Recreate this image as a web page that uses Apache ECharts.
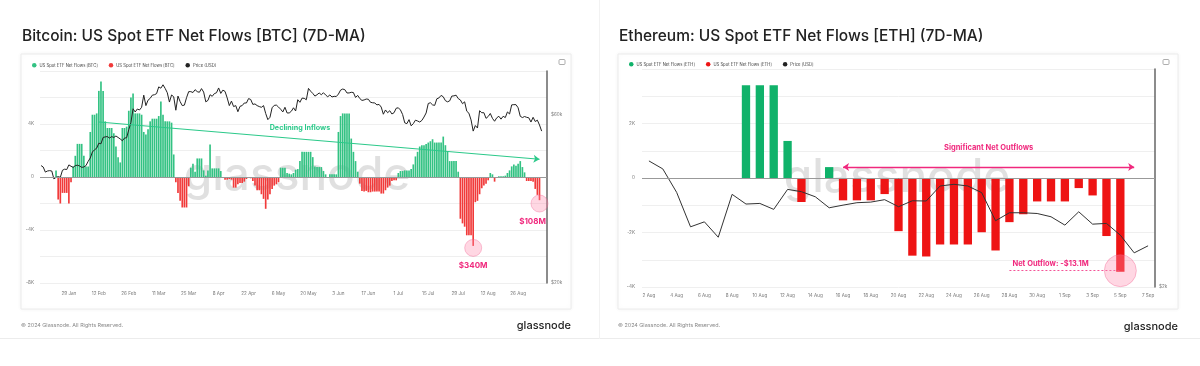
<!DOCTYPE html>
<html><head><meta charset="utf-8">
<script src="https://cdn.jsdelivr.net/npm/echarts@6/dist/echarts.min.js"></script>
<style>html,body{margin:0;padding:0;background:#fff;}#c{width:1200px;height:366px;}</style>
</head><body><div id="c"></div>
<script>
// ---------- DATA ----------
const btcStartDate = '2024-01-16';
const btcDayCount = 237;            // 16 Jan .. 9 Sep 2024 (axis extent)
// BTC ETF net flows, 7D-MA, in BTC (from 16 Jan)
const btcFlows = [
  0,0,0,0,0,0,0,500,
  -1700,-2000,-1200,-1200,-1200,-2000,-400,
  800,1600,2500,2500,2500,1600,800,800,3400,4700,4700,4800,6500,7200,6500,4200,3700,3700,3700,3300,2300,1500,1100,
  3700,3700,3800,5000,6000,6300,4800,4800,4800,4700,3400,3200,3600,4200,4400,4400,4400,4600,5700,4700,4200,4200,4200,4100,1700,
  -400,-1200,-1800,-2300,-2300,-2300,-700,
  700,1000,400,1400,1400,1400,500,100,500,2450,650,650,650,650,450,0,
  -200,-200,-150,-200,
  -800,-800,-550,-450,-450,-350,-150,0,-100,
  -300,-650,-1000,-1000,-1300,-1650,-2400,-1700,-1300,-900,-650,-550,-400,
  700,700,700,300,250,200,300,
  550,600,1200,1900,1900,1900,1900,1900,1500,800,750,750,750,450,200,0,200,200,200,200,
  3400,4600,4800,4800,4800,4800,2900,1900,1200,400,
  -500,-1050,-1100,-1050,-1150,-1150,-1100,-1100,-1100,-1100,-1250,-1250,-1000,-800,-650,-300,-250,-250,
  300,450,450,500,500,500,600,950,1550,1900,2300,2400,2400,2500,2600,2700,2850,2600,2600,2600,2600,3050,2400,1950,1200,1200,1200,1200,400,
  -3150,-3500,-3750,-4400,-4400,-4400,-5200,-1900,-1800,-1300,-850,-650,-500,-250,
  300,200,-350,0,50,50,50,100,300,500,800,950,850,1000,1200,750,350,
  -300,-300,-300,-350,-900,-1350,-1750
];
// BTC price (USD, thousands) from 16 Jan to 6 Sep
const btcPriceK = [
  43.1,42.7,41.3,41.6,41.7,41.6,39.5,39.9,40.1,39.9,41.8,42.1,42.0,43.3,42.9,42.6,
  43.1,43.2,43.0,42.6,42.7,43.1,44.3,45.3,47.1,47.8,48.3,49.9,49.7,51.8,52.0,52.1,51.6,52.1,51.8,52.3,51.8,51.3,50.7,51.6,51.7,54.5,57.1,62.5,61.2,
  62.4,62.0,63.1,68.3,63.8,66.1,66.9,68.3,68.5,69.0,72.1,71.5,73.1,71.4,69.4,65.3,68.4,67.6,61.9,67.9,65.5,63.8,64.0,67.2,69.9,69.9,69.5,70.8,69.9,69.6,71.3,
  69.7,65.4,66.0,68.5,67.8,69.0,69.4,71.6,69.1,70.6,70.0,67.1,63.8,65.7,63.4,63.8,61.3,63.5,63.8,64.9,64.9,66.8,66.4,64.3,64.5,63.8,63.4,63.1,63.8,60.6,
  58.2,59.1,62.9,63.9,64.0,63.2,62.3,61.2,63.1,60.8,60.8,61.5,62.9,61.6,66.3,65.2,67.0,66.9,66.3,71.4,70.1,69.1,67.9,68.5,69.3,68.5,69.4,68.4,67.6,68.4,67.5,
  67.8,67.7,68.8,70.6,71.1,70.8,69.3,69.3,69.6,69.5,67.3,68.2,66.8,66.0,66.2,66.6,66.5,65.2,65.0,64.9,64.1,64.3,63.2,60.3,62.0,60.9,61.7,60.4,60.9,62.7,
  62.9,62.0,60.2,57.0,56.7,58.2,55.9,56.7,58.0,57.7,57.3,57.9,59.2,60.8,64.7,65.0,64.1,63.9,66.7,67.1,68.2,67.6,65.9,65.4,65.8,67.9,68.0,68.3,66.8,66.2,64.6,
  65.4,61.5,60.7,58.1,54.0,56.0,55.1,61.7,60.9,60.9,58.7,59.4,60.6,58.7,57.6,58.9,59.5,58.4,59.5,59.0,61.2,60.4,64.1,64.2,64.2,62.9,59.5,59.0,59.4,59.1,58.9,
  57.3,59.1,57.5,58.0,56.2,54.0
];
const btcFlowTicks = [8000, 4000, 0, -4000, -8000];
const btcPriceTicks = [20000, 60000];

const ethStartDate = '2024-08-02';
const ethDayCount = 37;             // 2 Aug .. 7 Sep 2024
// ETH ETF net flows, 7D-MA, in ETH
const ethFlows = [null,null,null,null,null,null,null,3400,3400,3400,1360,-880,null,400,
  -820,-820,-820,-590,-1950,-2850,-2880,-2440,-2440,-2440,-1990,-2660,-1620,-1330,-860,-860,-860,-370,-640,-2130,-3440,null,null];
// ETH price (USD)
const ethPrice = [3041,2975,2781,2497,2538,2411,2765,2685,2690,2641,2806,2787,2745,2654,2676,2696,2701,2721,
  2663,2712,2710,2834,2848,2834,2779,2547,2613,2613,2607,2580,2511,2621,2519,2525,2428,2282,2340];
const ethPriceTicks = [2000];

// ---------- HELPERS ----------
const MONTHS = ['Jan','Feb','Mar','Apr','May','Jun','Jul','Aug','Sep','Oct','Nov','Dec'];
function dayLabels(start, n) {
  const d0 = new Date(start + 'T00:00:00Z').getTime();
  const out = [];
  for (let k = 0; k < n; k++) { const d = new Date(d0 + k * 86400000); out.push(d.getUTCDate() + ' ' + MONTHS[d.getUTCMonth()]); }
  return out;
}
const btcDates = dayLabels(btcStartDate, btcDayCount);
const ethDates = dayLabels(ethStartDate, ethDayCount);
const btcPrice = btcPriceK.map(v => v * 1000);
const pos = a => a.map(v => (v != null && v > 0) ? v : null);
const neg = a => a.map(v => (v != null && v < 0) ? v : null);
const kFmt = v => v === 0 ? '0' : (v / 1000) + 'K';

const GREEN_B = '#33c283', RED_B = '#f13a3a';
const GREEN_E = '#10b26a', RED_E = '#ee1414';
const PINK = '#f0287d', ANN_GREEN = '#2cc98a';
const FONT = 'Inter, Roboto, sans-serif';
const legendNames = {
  btcPos: 'US Spot ETF Net Flows [BTC]', btcNeg: 'US Spot ETF Net Flows [BTC]', btcPrice: 'Price (USD)',
  ethPos: 'US Spot ETF Net Flows [ETH]', ethNeg: 'US Spot ETF Net Flows [ETH]', ethPrice: 'Price [USD]'
};
const axisLabelStyle = { fontSize: 4.6, color: '#777', fontFamily: FONT };
const circleStyle = { color: 'rgba(255,140,175,0.35)', borderColor: 'rgba(240,90,140,0.45)', borderWidth: 0.8 };

const chart = echarts.init(document.getElementById('c'), null, { renderer: 'canvas' });
chart.setOption({
  backgroundColor: '#fff',
  animation: false,
  textStyle: { fontFamily: FONT },
  title: [
    { text: 'Bitcoin: US Spot ETF Net Flows [BTC] (7D-MA)', left: 17, top: 23,
      textStyle: { fontSize: 15.5, fontWeight: 500, color: '#222', fontFamily: FONT } },
    { text: 'Ethereum: US Spot ETF Net Flows [ETH] (7D-MA)', left: 614, top: 23,
      textStyle: { fontSize: 15.5, fontWeight: 500, color: '#222', fontFamily: FONT } }
  ],
  legend: [
    { data: ['btcPos', 'btcNeg', 'btcPrice'], left: 27, top: 58, icon: 'circle', itemWidth: 4.5, itemHeight: 4.5,
      itemGap: 11, selectedMode: false, formatter: n => legendNames[n], textStyle: { fontSize: 4.2, color: '#444', padding: [0, 0, 0, -2] } },
    { data: ['ethPos', 'ethNeg', 'ethPrice'], left: 624, top: 57, icon: 'circle', itemWidth: 4.5, itemHeight: 4.5,
      itemGap: 11, selectedMode: false, formatter: n => legendNames[n], textStyle: { fontSize: 4.2, color: '#444', padding: [0, 0, 0, -2] } }
  ],
  grid: [
    { left: 40, right: 653, top: 71, bottom: 83 },
    { left: 642, right: 45, top: 69, bottom: 79 }
  ],
  xAxis: [
    { type: 'category', gridIndex: 0, data: btcDates, boundaryGap: true,
      axisLine: { show: false }, axisTick: { show: false },
      axisLabel: Object.assign({ margin: 8, interval: (i) => i >= 13 && (i - 13) % 14 === 0 }, axisLabelStyle) },
    { type: 'category', gridIndex: 1, data: ethDates, boundaryGap: true,
      axisLine: { show: false }, axisTick: { show: false },
      axisLabel: Object.assign({ margin: 6, interval: 1 }, axisLabelStyle) }
  ],
  yAxis: [
    { type: 'value', gridIndex: 0, min: -8000, max: 8000, interval: 2000, position: 'left',
      axisLine: { show: false }, axisTick: { show: false },
      splitLine: { lineStyle: { color: '#efefef', width: 1 } },
      axisLabel: Object.assign({ margin: 6, formatter: v => (btcFlowTicks.includes(v) && v !== 8000) ? kFmt(v) : '' }, axisLabelStyle) },
    { type: 'log', gridIndex: 0, min: 20000, max: 80000, position: 'right',
      axisLine: { show: true, lineStyle: { color: '#666', width: 1.5 } }, axisTick: { show: false },
      splitLine: { show: false },
      axisLabel: Object.assign({ margin: 4, customValues: btcPriceTicks, formatter: v => '$' + Math.round(v / 1000) + 'k' }, axisLabelStyle) },
    { type: 'value', gridIndex: 1, min: -4000, max: 4000, interval: 1000, position: 'left',
      axisLine: { show: false }, axisTick: { show: false },
      splitLine: { lineStyle: { color: '#efefef', width: 1 } },
      axisLabel: Object.assign({ margin: 7, formatter: v => (v % 2000 === 0 && v !== 4000) ? kFmt(v) : '' }, axisLabelStyle) },
    { type: 'value', gridIndex: 1, min: 2000, max: 3800, position: 'right',
      axisLine: { show: true, lineStyle: { color: '#666', width: 1.5 } }, axisTick: { show: false },
      splitLine: { show: false },
      axisLabel: Object.assign({ margin: 4, customValues: ethPriceTicks, formatter: v => '$' + Math.round(v / 1000) + 'k' }, axisLabelStyle) }
  ],
  series: [
    { name: 'btcPos', type: 'bar', xAxisIndex: 0, yAxisIndex: 0, data: pos(btcFlows), barGap: '-100%', barCategoryGap: '22%',
      itemStyle: { color: GREEN_B }, z: 3,
      markLine: { silent: true, symbol: 'none', animation: false,
        data: [
          { yAxis: 0, lineStyle: { color: '#999', width: 1, type: 'solid' }, label: { show: false } },
          [ { coord: [btcDates[27], 4150], symbol: 'none' },
            { coord: [btcDates[233], 1340], symbol: 'arrow', symbolSize: 6 } ]
        ],
        lineStyle: { color: ANN_GREEN, width: 1.2, type: 'solid' }, label: { show: false } },
      markPoint: { silent: true, animation: false,
        data: [ { coord: [btcDates[121], 3700], symbol: 'circle', symbolSize: 0,
          label: { show: true, position: 'inside', formatter: 'Declining Inflows', color: ANN_GREEN, fontWeight: 'bold', fontSize: 7.2, fontFamily: FONT } } ] } },
    { name: 'btcNeg', type: 'bar', xAxisIndex: 0, yAxisIndex: 0, data: neg(btcFlows), barGap: '-100%', barCategoryGap: '22%',
      itemStyle: { color: RED_B }, z: 3,
      markPoint: { silent: true, animation: false, symbol: 'circle', symbolSize: 17, itemStyle: circleStyle,
        label: { show: true, position: 'bottom', distance: 5, color: PINK, fontWeight: 'bold', fontSize: 8, fontFamily: FONT },
        data: [
          { coord: [btcDates[202], -5350], label: { formatter: '$340M' } },
          { coord: [btcDates[233], -2000], label: { formatter: '$108M', offset: [-7, 0] } }
        ] } },
    { name: 'btcPrice', type: 'line', xAxisIndex: 0, yAxisIndex: 1, data: btcPrice, symbol: 'none', z: 4,
      lineStyle: { color: '#222', width: 1 }, itemStyle: { color: '#222' } },

    { name: 'ethPos', type: 'bar', xAxisIndex: 1, yAxisIndex: 2, data: pos(ethFlows), barGap: '-100%', barCategoryGap: '40%',
      itemStyle: { color: GREEN_E }, z: 3,
      markLine: { silent: true, symbol: 'none', animation: false,
        data: [
          { yAxis: 0, lineStyle: { color: '#999', width: 1, type: 'solid' }, label: { show: false } },
          [ { coord: [ethDates[14], 400], symbol: 'arrow', symbolSize: 6 },
            { coord: [ethDates[35], 400], symbol: 'arrow', symbolSize: 6 } ]
        ],
        lineStyle: { color: PINK, width: 1.3, type: 'solid' },
        label: { show: true, position: 'middle', distance: 15, formatter: 'Significant Net Outflows', color: PINK, fontWeight: 'bold', fontSize: 7.5, fontFamily: FONT } } },
    { name: 'ethNeg', type: 'bar', xAxisIndex: 1, yAxisIndex: 2, data: neg(ethFlows), barGap: '-100%', barCategoryGap: '40%',
      itemStyle: { color: RED_E }, z: 3,
      markLine: { silent: true, symbol: 'none', animation: false,
        data: [ [ { coord: [ethDates[26], -3400] }, { coord: [ethDates[34], -3400] } ] ],
        lineStyle: { color: PINK, width: 0.8, type: [2, 2] },
        label: { show: true, position: 'insideStartTop', distance: 3, formatter: 'Net Outflow: -$13.1M', color: PINK, fontWeight: 'bold', fontSize: 7.5, fontFamily: FONT } },
      markPoint: { silent: true, animation: false, symbol: 'circle', symbolSize: 32, itemStyle: circleStyle, label: { show: false },
        data: [ { coord: [ethDates[34], -3400] } ] } },
    { name: 'ethPrice', type: 'line', xAxisIndex: 1, yAxisIndex: 3, data: ethPrice, symbol: 'none', z: 4,
      lineStyle: { color: '#333', width: 1 }, itemStyle: { color: '#222' } }
  ],
  graphic: [
    { type: 'rect', z: -10, shape: { x: 21, y: 54, width: 550, height: 255 }, style: { fill: '#fff', stroke: '#ececec', lineWidth: 1, shadowBlur: 4, shadowColor: 'rgba(0,0,0,0.05)' } },
    { type: 'rect', z: -10, shape: { x: 618, y: 54, width: 560, height: 255 }, style: { fill: '#fff', stroke: '#ececec', lineWidth: 1, shadowBlur: 4, shadowColor: 'rgba(0,0,0,0.05)' } },
    { type: 'line', z: -9, shape: { x1: 0, y1: 338.5, x2: 1200, y2: 338.5 }, style: { stroke: '#ececec', lineWidth: 1 } },
    { type: 'line', z: -9, shape: { x1: 599.5, y1: 0, x2: 599.5, y2: 339 }, style: { stroke: '#f2f2f2', lineWidth: 1 } },
    { type: 'text', z: 1, x: 297, y: 176, style: { text: 'glassnode', fontSize: 46, fontWeight: 500, fontFamily: FONT, fill: 'rgba(0,0,0,0.12)', textAlign: 'center', textVerticalAlign: 'middle' } },
    { type: 'text', z: 1, x: 897, y: 178, style: { text: 'glassnode', fontSize: 46, fontWeight: 500, fontFamily: FONT, fill: 'rgba(0,0,0,0.12)', textAlign: 'center', textVerticalAlign: 'middle' } },
    { type: 'rect', z: 5, shape: { x: 559, y: 59.5, width: 6, height: 5, r: 1 }, style: { fill: 'none', stroke: '#999', lineWidth: 0.8 } },
    { type: 'rect', z: 5, shape: { x: 1163, y: 59.5, width: 6, height: 5, r: 1 }, style: { fill: 'none', stroke: '#999', lineWidth: 0.8 } },
    { type: 'text', x: 21, y: 325, style: { text: '© 2024 Glassnode. All Rights Reserved.', fontSize: 5.4, fontFamily: FONT, fill: '#888', textVerticalAlign: 'middle' } },
    { type: 'text', x: 618, y: 325, style: { text: '© 2024 Glassnode. All Rights Reserved.', fontSize: 5.4, fontFamily: FONT, fill: '#888', textVerticalAlign: 'middle' } },
    { type: 'text', x: 571, y: 326, style: { text: 'glassnode', fontSize: 11, fontWeight: 500, fontFamily: FONT, fill: '#222', textAlign: 'right', textVerticalAlign: 'middle' } },
    { type: 'text', x: 1178, y: 327, style: { text: 'glassnode', fontSize: 11, fontWeight: 500, fontFamily: FONT, fill: '#222', textAlign: 'right', textVerticalAlign: 'middle' } }
  ]
});
</script></body></html>
